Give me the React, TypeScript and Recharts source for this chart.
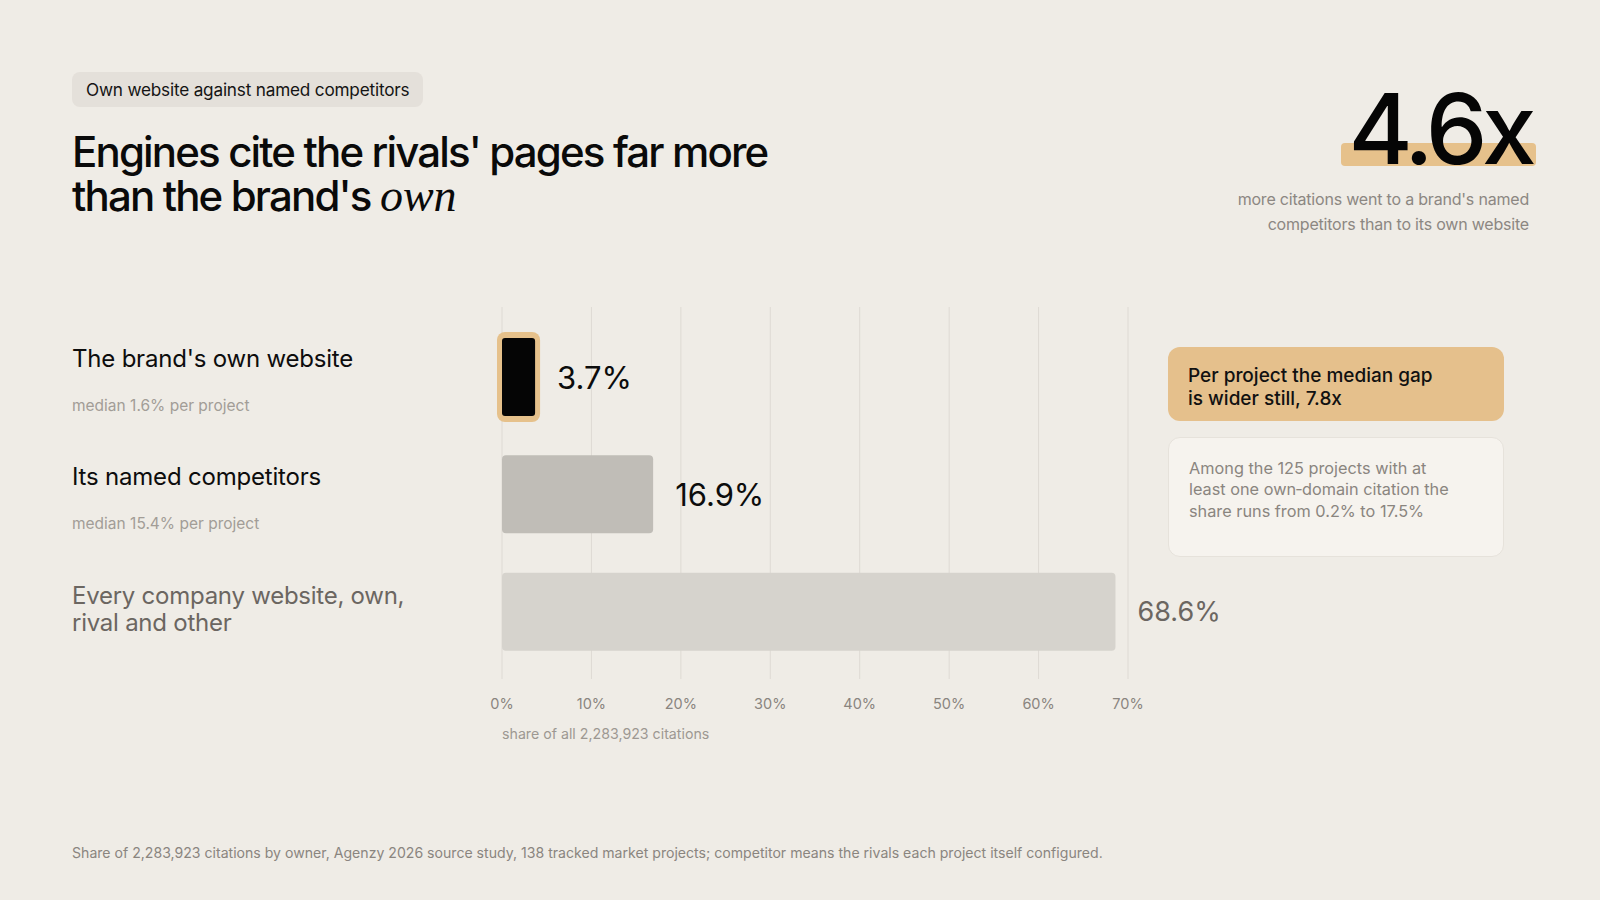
import { BarChart, Bar, XAxis, YAxis, CartesianGrid, LabelList } from 'recharts';

// categories, top to bottom
const categories = ["The brand's own website", 'Its named competitors', 'Every company website, own, rival and other'];
const categoryLines = [["The brand's own website"], ['Its named competitors'], ['Every company website, own,', 'rival and other']];
const medianNotes = ['median 1.6% per project', 'median 15.4% per project', ''];

// share of all citations, %
const shares = [3.7, 16.9, 68.6];
const xTicks = [0, 10, 20, 30, 40, 50, 60, 70];

const barFills = ['#050505', '#C0BDB7', '#D6D3CD'];
const framed = [true, false, false];
const valueColors = ['#0C0C0C', '#0C0C0C', '#6B6661'];
const valueSizes = [31, 31, 27];
const categoryColors = ['#0D0D0D', '#0D0D0D', '#6B6661'];

const calloutLines = ['Per project the median gap', 'is wider still, 7.8x'];
const noteLines = ['Among the 125 projects with at', 'least one own\u2011domain citation the', 'share runs from 0.2% to 17.5%'];

const data = categories.map((name, i) => ({ name, value: shares[i] }));

const BG = '#EFECE6';
const GOLD = '#E6C18B';
const FONT = 'Inter, "Noto Sans", sans-serif';

function CategoryTick(props: any) {
  const { y, payload } = props;
  const i = categories.indexOf(payload.value);
  const lines = categoryLines[i];
  const note = medianNotes[i];
  if (note) {
    return (
      <g fontFamily={FONT}>
        <text x={72} y={y - 18} dominantBaseline="central" fontSize={24} letterSpacing={-0.2} fill={categoryColors[i]}>{lines[0]}</text>
        <text x={72} y={y + 29} dominantBaseline="central" fontSize={15.5} fill="#A29D97">{note}</text>
      </g>
    );
  }
  return (
    <g fontFamily={FONT}>
      {lines.map((line, k) => (
        <text key={k} x={72} y={y - 16 + k * 27.5} dominantBaseline="central" fontSize={24} letterSpacing={-0.25} fill={categoryColors[i]}>{line}</text>
      ))}
    </g>
  );
}

function ShareBar(props: any) {
  const { x, y, width, height } = props;
  let i = categories.indexOf(props.payload?.name ?? props.name);
  if (i < 0) i = props.index ?? 0;
  if (framed[i]) {
    return (
      <g>
        <rect x={x - 5} y={y - 6} width={width + 10} height={height + 12} rx={8} fill={GOLD} />
        <rect x={x} y={y} width={width} height={height} rx={3} fill={barFills[i]} />
      </g>
    );
  }
  return <rect x={x} y={y} width={width} height={height} rx={4} fill={barFills[i]} />;
}

function ValueLabel(props: any) {
  const { x, y, width, height, value, index } = props;
  return (
    <text x={x + width + 22} y={y + height / 2} dominantBaseline="central" fontFamily={FONT}
      fontSize={valueSizes[index]} fill={valueColors[index]}>
      {`${value}%`}
    </text>
  );
}

export default function App() {
  return (
    <div style={{ position: 'absolute', left: 0, top: 0, width: 1600, height: 900, background: BG, fontFamily: FONT, overflow: 'hidden' }}>
      <div style={{ position: 'absolute', left: 72, top: 72, height: 35, lineHeight: '35px', padding: '0 14px', borderRadius: 8, background: '#E4E0DA', fontSize: 17.2, color: '#141414', letterSpacing: -0.2 }}>
        Own website against named competitors
      </div>
      <div style={{ position: 'absolute', left: 72, top: 129.5, fontSize: 42, lineHeight: '44px', fontWeight: 500, color: '#0A0A0A', letterSpacing: -1.85 }}>
        <div style={{ height: 44 }}>Engines cite the rivals' pages far more</div>
        <div style={{ height: 44 }}>than the brand's <span style={{ fontFamily: '"Liberation Serif", serif', fontStyle: 'italic', fontWeight: 400, fontSize: 46, letterSpacing: 0 }}>own</span></div>
      </div>

      <div style={{ position: 'absolute', left: 1341, top: 143, width: 195, height: 23, borderRadius: 4, background: GOLD }} />
      <div style={{ position: 'absolute', right: 69, top: 80, fontSize: 98, lineHeight: '98px', fontWeight: 500, color: '#050505', letterSpacing: -5.5 }}>
        4.6x
      </div>
      <div style={{ position: 'absolute', right: 71, top: 187, fontSize: 16, lineHeight: '24.5px', color: '#8C8782', textAlign: 'right', letterSpacing: -0.2 }}>
        more citations went to a brand's named<br />competitors than to its own website
      </div>

      <div style={{ position: 'absolute', left: 0, top: 297 }}>
        <BarChart width={1240} height={432} data={data} layout="vertical" margin={{ top: 10, right: 112, left: 0, bottom: 0 }}>
          <CartesianGrid horizontal={false} stroke="#DEDAD4" />
          <XAxis type="number" domain={[0, 70]} ticks={xTicks} interval={0} tickFormatter={(v) => `${v}%`}
            axisLine={false} tickLine={false} tickMargin={14} height={50}
            tick={{ fill: '#8A857F', fontSize: 14.5, fontFamily: FONT }} />
          <YAxis type="category" dataKey="name" width={502} axisLine={false} tickLine={false} interval={0}
            padding={{ top: 11, bottom: 9 }} tick={<CategoryTick />} />
          <Bar dataKey="value" barSize={78} shape={ShareBar} isAnimationActive={false}>
            <LabelList dataKey="value" content={ValueLabel} />
          </Bar>
        </BarChart>
      </div>
      <div style={{ position: 'absolute', left: 502, top: 724, fontSize: 14.2, lineHeight: '20px', color: '#9D9892' }}>
        share of all 2,283,923 citations
      </div>

      <div style={{ position: 'absolute', left: 1168, top: 347, width: 336, height: 74, borderRadius: 12, background: '#E5C08C', boxSizing: 'border-box', padding: '16.5px 20px 0', fontSize: 19, lineHeight: '23.5px', fontWeight: 500, color: '#111111' }}>
        {calloutLines.map((l, k) => <div key={k}>{l}</div>)}
      </div>
      <div style={{ position: 'absolute', left: 1168, top: 437, width: 336, height: 120, borderRadius: 12, background: '#F6F3EE', border: '1.5px solid #E6E2DB', boxSizing: 'border-box', padding: '19.5px 20px 0', fontSize: 16.3, lineHeight: '21.5px', color: '#8A857F' }}>
        {noteLines.map((l, k) => <div key={k}>{l}</div>)}
      </div>

      <div style={{ position: 'absolute', left: 72, top: 843, fontSize: 14.1, lineHeight: '20px', color: '#8A857F' }}>
        Share of 2,283,923 citations by owner, Agenzy 2026 source study, 138 tracked market projects; competitor means the rivals each project itself configured.
      </div>
    </div>
  );
}
